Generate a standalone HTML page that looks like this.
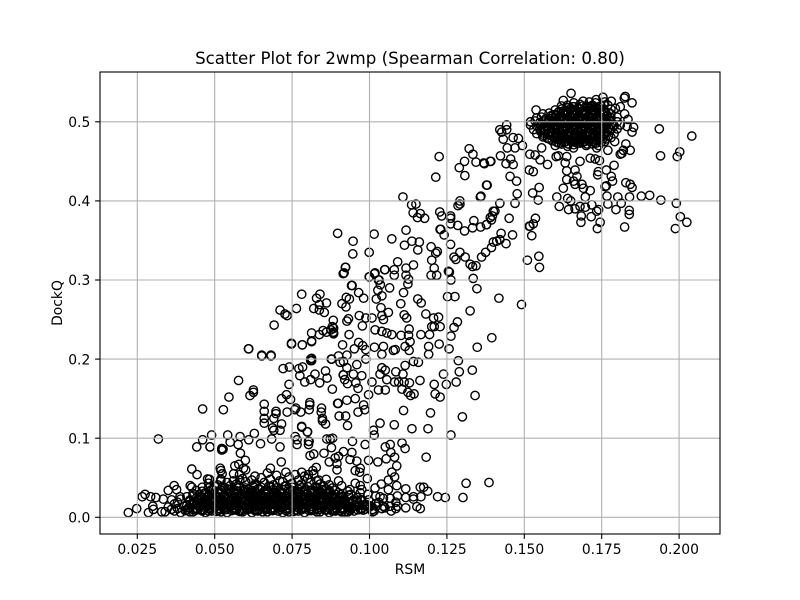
<!DOCTYPE html>
<html><head><meta charset="utf-8"><title>Scatter Plot for 2wmp</title>
<style>html,body{margin:0;padding:0;background:#fff}svg{display:block}text{font-family:"DejaVu Sans","Liberation Sans",sans-serif;fill:#000}</style>
</head><body>
<svg id="chart" width="800" height="600" viewBox="0 0 800 600" xmlns="http://www.w3.org/2000/svg">
<rect width="800" height="600" fill="#fff"/>
<g id="points"></g>
<g id="grid"></g>
<rect x="100" y="72" width="620" height="462" fill="none" stroke="#000" stroke-width="1.11"/>
<g id="axes"></g>
<text x="410" y="64" font-size="16.67" text-anchor="middle">Scatter Plot for 2wmp (Spearman Correlation: 0.80)</text>
<text x="410" y="574" font-size="13.89" text-anchor="middle">RSM</text>
<text x="0" y="0" font-size="13.89" text-anchor="middle" transform="translate(62 303) rotate(-90)">DockQ</text>
</svg>
<script>
const xTicks = [0.025, 0.05, 0.075, 0.1, 0.125, 0.15, 0.175, 0.2];
const xTickLabels = ["0.025", "0.050", "0.075", "0.100", "0.125", "0.150", "0.175", "0.200"];
const yTicks = [0, 0.1, 0.2, 0.3, 0.4, 0.5];
const yTickLabels = ["0.0", "0.1", "0.2", "0.3", "0.4", "0.5"];

// low-left outliers and mid-height points
const rsmLower = [
.0221,.0248,.0286,.0266,.0275,.0293,.0310,.0300,.0302,.0334,
.0350,.0361,.0369,.0377,.0388,.0421,.0426,.0329,.0318,.0442,
.0485,.0523,.0527,.0583,.0599,.0426,.0443,.0518,.0520,.0524,
.0565,.0578,.0561,.0593,.0600,.0680,.0715,.0477,.0483,.0520,
.0581,.0808,.0781,.0800,.0805,.0803,.0862,.0873,.0881,.0945,
.0986,.0877,.0820,.0853,.0916,.0943,.0937,.0900,.0889,.0870,
.0895,.0895,.0959,.0997,.1027,.1054,.1051,.1067,.1105,.1115,
.1069,.1081,.1183,.1088,.1072,.1081,.1061,.0954,.0970,.0968,
.0993,.0828,.0817,.0803,.0781,.0836,.1312,.1386,.1302,.1220,
.1245,.1166,.1164,.1175,.1188,.1117,.1088,.1142,.1142,.1117,
.1090,.1117,.1153,.1164,.1090,.1085,.1067,.1061,.1038,.1034,
.1015,.1022,.1045,.1067,.1018,.0975,.0954,.0970,.0937,.0910,
.0975,.0992,.0937,.0910,.0975,.0948,.0916,.0932,.0964,.0997,
.1034,.1013,.1015,.1080,.1110,.1137,.1189,.1197,.1300,.1263];
const dockqLower = [
.006,.011,.006,.026,.029,.026,.025,.014,.010,.023,
.034,.022,.040,.035,.026,.040,.038,.007,.099,.089,
.089,.085,.086,.081,.072,.061,.054,.062,.059,.055,
.065,.067,.055,.062,.060,.062,.070,.0485,.048,.046,
.047,.078,.114,.108,.096,.092,.099,.099,.100,.096,
.092,.088,.080,.081,.083,.082,.073,.077,.075,.070,
.068,.060,.071,.072,.070,.074,.089,.092,.094,.087,
.082,.076,.076,.065,.057,.051,.047,.059,.062,.057,
.049,.063,.059,.054,.057,.047,.043,.044,.025,.026,
.025,.026,.038,.038,.033,.036,.040,.026,.023,.025,
.027,.012,.0135,.011,.014,.011,.014,.035,.042,.026,
.008,.014,.014,.024,.037,.035,.043,.040,.035,.040,
.022,.0135,.009,.007,.011,.022,.026,.018,.018,.022,
.119,.110,.104,.117,.135,.112,.112,.132,.127,.104];

// points between DockQ 0.1 and 0.22 on the left of the cloud
const rsmMiddle = [
.0610,.0652,.0682,.0748,.0783,.0813,.0813,.0813,.0721,.0741,
.0772,.0784,.0775,.0791,.0810,.0824,.0858,.0863,.0839,.0880,
.0577,.0625,.0625,.0614,.0546,.0528,.0461,.0740,.0732,.0716,
.0745,.0660,.0660,.0660,.0660,.0698,.0698,.0691,.0716,.0734,
.0762,.0759,.0778,.0807,.0807,.0805,.0845,.0848,.0848,.0858,
.0781,.0799,.0687,.0691,.0711,.0899,.0902,.0923,.0929,.0877,
.0490,.0542,.0582,.0628,.0550,.0576,.0610,.0648,.0684,.0711,
.0760,.0766,.0766,.0803,.0461,.0485,.0523,.0844,.0963,.0985];
const dockqMiddle = [
.213,.205,.205,.219,.218,.222,.201,.198,.188,.190,
.188,.190,.179,.171,.174,.181,.185,.176,.170,.162,
.173,.161,.158,.154,.152,.136,.137,.168,.155,.150,
.149,.143,.134,.125,.119,.134,.131,.125,.118,.133,
.138,.136,.133,.145,.142,.136,.138,.125,.122,.118,
.115,.108,.113,.110,.110,.144,.128,.128,.116,.200,
.104,.104,.102,.106,.095,.092,.098,.093,.099,.089,
.102,.098,.092,.096,.098,.089,.087,.133,.133,.136];

// points above 0.2 left of RSM 0.09
const rsmUpperLeft = [
.0922,.0915,.0999,.1016,.1049,.0942,.1031,.0781,.0840,.0829,
.0861,.0838,.0820,.0838,.0854,.0764,.0711,.0727,.0734,.0692,
.0609,.0652,.0682,.0748,.0783,.0813,.0813,.0838,.0850,.0861,
.0880,.0883,.0875,.0883,.0877,.0810,.0810];
const dockqUpperLeft = [
.316,.308,.304,.308,.313,.293,.300,.282,.282,.277,
.271,.269,.264,.262,.259,.264,.262,.257,.255,.243,
.213,.204,.204,.220,.218,.233,.223,.231,.236,.234,
.241,.234,.237,.249,.200,.200,.198];

// central diagonal of the cloud
const rsmCentral = [
.0897,.1015,.0947,.0946,.0999,.1072,.1118,.1137,.1161,.1113,
.1156,.1228,.1241,.1262,.1262,.1285,.1307,.1333,.1359,.1378,
.1394,.1425,.1462,.1400,.1411,.1421,.1441,.1394,.1375,.1362,
.1344,.1333,.1325,.1309,.1292,.1279,.1273,.1199,.1219,.1214,
.1201,.1209,.1199,.1217,.1255,.1258,.1263,.1335,.1347,.1418,
.1491,.1325,.1510,.1547,.1549,.1518,.1524,.0923,.0918,.1000,
.1018,.1050,.1091,.1080,.1080,.1118,.1142,.1118,.1126,.1124,
.1029,.1035,.1065,.1027,.1040,.1022,.1110,.1101,.1156,.1167,
.1252,.1276,.0944,.0965,.0981,.0925,.0935,.0911,.0924,.1037,
.1061,.1040,.1045,.1112,.1120,.1182,.1207,.1223,.1209,.1228,
.1201,.1284,.1273,.1263,.1395,.1348,.1225,.1257,.1191,.1191,
.0967,.0932,.0927,.0884,.0884,.0988,.1008,.0977,.1018,.1040,
.1056,.1072,.1102,.1128,.1126,.1166,.1194,.0934,.0913,.0951,
.0965,.0978,.0988,.1016,.1045,.1040,.1083,.1077,.1115,.1131,
.1128,.0900,.0927,.0988,.0959,.0916,.0927,.0878,.1142,.1158,
.1115,.1287,.1290,.1332,.1239,.1280,.1248,.1209,.1163,.1212,
.1228,.1341,.1040,.1051,.1085,.1108,.1034,.1056,.1081,.1094,
.1112,.1129,.1105,.1124,.1133,.1144,.1029,.1051,.1008,.0997,
.0975,.0948,.0916,.0920,.0956,.0963,.0929,.0954,.0927,.0897,
.0981,.0884,.0915,.0905];
const dockqCentral = [
.359,.358,.349,.333,.335,.352,.363,.349,.348,.344,
.338,.364,.357,.345,.371,.369,.362,.366,.367,.370,
.376,.359,.357,.348,.349,.351,.346,.341,.335,.329,
.318,.317,.320,.329,.335,.326,.329,.342,.336,.334,
.325,.315,.306,.306,.311,.310,.300,.302,.289,.277,
.269,.261,.325,.330,.316,.368,.356,.316,.309,.304,
.309,.313,.323,.313,.306,.315,.319,.306,.301,.295,
.300,.294,.290,.287,.280,.276,.284,.270,.276,.271,
.279,.279,.293,.284,.277,.278,.276,.270,.266,.265,
.259,.255,.250,.256,.252,.257,.252,.253,.241,.241,
.241,.247,.240,.229,.227,.215,.219,.213,.216,.206,
.255,.251,.248,.239,.233,.252,.252,.242,.237,.235,
.233,.231,.230,.238,.230,.231,.231,.231,.218,.213,
.221,.217,.212,.215,.216,.206,.212,.211,.216,.222,
.211,.204,.205,.200,.193,.197,.189,.200,.197,.196,
.192,.198,.184,.186,.181,.171,.168,.168,.173,.156,
.152,.154,.189,.186,.184,.181,.181,.174,.171,.171,
.171,.170,.162,.158,.154,.156,.161,.161,.171,.155,
.179,.181,.180,.174,.170,.163,.169,.150,.148,.144,
.142,.232,.180,.196];

// points under the top cluster, around RSM 0.11 to 0.15
const rsmRising = [
.1225,.1214,.1322,.1334,.1307,.1344,.1371,.1392,.1290,.1308,
.1380,.1358,.1292,.1286,.1292,.1150,.1164,.1155,.1178,.1227,
.1233,.1262,.1262,.1337,.1397,.1405,.1108,.1136,.1141,.1230];
const dockqRising = [
.456,.430,.466,.459,.450,.449,.447,.450,.442,.432,
.420,.405,.400,.394,.396,.396,.384,.379,.378,.386,
.381,.381,.378,.375,.381,.387,.405,.395,.385,.364];

// outer points around the top cluster
const rsmTop = [
.1651,.1538,.1626,.1732,.1754,.1781,.1826,.1823,.1848,.1810,
.1794,.1824,.1835,.1832,.1853,.1848,.1936,.2041,.1792,.1828,
.1842,.1820,.1815,.1810,.1940,.2002,.1994,.1790,.1421,.1443,
.1427,.1443,.1432,.1464,.1481,.1494,.1445,.1470,.1423,.1456,
.1441,.1464,.1369,.1390,.1516,.1529,.1454,.1475,.1378,.1360,
.1477,.1527,.1548,.1545,.1421,.1470,.1451,.1536,.1529,.1516,
.1400,.1390,.1378,.1575,.1551,.1535,.1518,.1556,.1610,.1637,
.1632,.1637,.1664,.1670,.1637,.1659,.1626,.1664,.1686,.1691,
.1713,.1697,.1605,.1640,.1650,.1613,.1643,.1664,.1680,.1697,
.1718,.1684,.1683,.1716,.1734,.1740,.1745,.1736,.1767,.1770,
.1796,.1813,.1802,.1840,.1878,.1905,.1941,.1991,.2004,.2025,
.1988,.1839,.1839,.1824,.1828,.1842,.1848,.1761,.1765,.1739,
.1737,.1765,.1781,.1785,.1680,.1713,.1734,.1743,.1770,.1729,
.1659,.1603];
const dockqTop = [
.536,.515,.527,.528,.531,.526,.532,.530,.524,.519,
.517,.510,.503,.494,.493,.487,.491,.482,.475,.472,
.464,.464,.460,.459,.457,.462,.456,.445,.490,.496,
.487,.490,.478,.480,.479,.470,.467,.467,.457,.453,
.447,.446,.448,.450,.439,.437,.431,.425,.420,.406,
.409,.410,.417,.401,.397,.397,.378,.378,.371,.368,
.387,.379,.370,.446,.452,.458,.459,.467,.457,.456,
.448,.438,.439,.431,.427,.425,.416,.421,.421,.416,
.413,.405,.405,.403,.400,.393,.389,.390,.393,.392,
.395,.381,.373,.380,.387,.389,.373,.365,.406,.396,
.389,.397,.405,.405,.406,.407,.401,.397,.380,.373,
.365,.388,.383,.367,.423,.421,.417,.418,.419,.437,
.433,.439,.431,.425,.450,.454,.467,.451,.464,.453,
.467,.456];

// dense band near the bottom, read row by row
const rsmBand = [
.034,.037,.039,.042,.044,.047,.049,.052,.054,.057,.059,.062,.064,.067,.069,.072,.074,.077,.079,.082,.084,.087,.089,.092,.095,.098,.101,
.036,.038,.041,.043,.046,.048,.051,.053,.056,.058,.061,.063,.066,.068,.071,.073,.076,.078,.081,.083,.086,.088,.091,.094,.097,.104,
.035,.040,.042,.045,.047,.050,.052,.055,.057,.060,.062,.065,.067,.070,.072,.075,.077,.080,.082,.085,.087,.090,.093,.096,.100,
.037,.041,.044,.046,.049,.051,.054,.056,.059,.061,.064,.066,.069,.071,.074,.076,.079,.081,.084,.086,.089,.091,.095,.099,
.038,.042,.043,.045,.048,.050,.053,.055,.058,.060,.063,.065,.068,.070,.073,.075,.078,.080,.083,.085,.088,.090,.094,.102,
.039,.042,.044,.047,.049,.052,.054,.057,.059,.062,.064,.067,.069,.072,.074,.077,.079,.082,.084,.087,.089,.092,.097,
.041,.043,.046,.048,.051,.053,.056,.058,.061,.063,.066,.068,.071,.073,.076,.078,.081,.083,.086,.088,.091,.096,
.043,.045,.047,.050,.052,.055,.057,.060,.062,.065,.067,.070,.072,.075,.077,.080,.082,.085,.087,.090,.094,
.044,.046,.049,.051,.054,.056,.059,.061,.064,.066,.069,.071,.074,.076,.079,.081,.084,.086,.089,.093,
.046,.048,.050,.053,.055,.058,.060,.063,.065,.068,.070,.073,.075,.078,.080,.083,.085,.088,
.048,.051,.054,.057,.060,.063,.066,.069,.072,.075,.078,.081,.084,.087,
.052,.056,.059,.062,.065,.068,.071,.074,.077,.080,.083,.086,.090,
.058,.063,.067,.070,.073,.076,.079,.082];
const dockqBand = [
.007,.008,.006,.007,.009,.006,.008,.007,.006,.009,.007,.006,.008,.007,.009,.006,.007,.008,.006,.009,.007,.006,.008,.007,.008,.009,.007,
.010,.011,.009,.010,.008,.011,.009,.012,.010,.009,.011,.010,.012,.009,.010,.011,.009,.012,.010,.011,.009,.010,.012,.011,.010,.011,
.013,.014,.012,.013,.015,.012,.014,.013,.015,.012,.014,.013,.012,.015,.013,.014,.012,.015,.013,.014,.012,.015,.013,.014,.013,
.017,.015,.016,.018,.015,.017,.016,.018,.016,.017,.015,.018,.016,.017,.015,.018,.016,.017,.015,.018,.016,.017,.015,.016,
.019,.020,.018,.021,.019,.020,.018,.021,.019,.020,.018,.021,.019,.020,.018,.021,.019,.020,.018,.021,.019,.020,.018,.017,
.023,.022,.024,.022,.023,.021,.024,.022,.023,.025,.022,.024,.023,.021,.024,.022,.023,.025,.022,.024,.023,.021,.022,
.026,.027,.025,.028,.026,.027,.025,.028,.026,.027,.025,.028,.026,.027,.025,.028,.026,.027,.025,.028,.026,.025,
.030,.029,.031,.029,.030,.032,.029,.031,.030,.029,.032,.030,.031,.029,.032,.030,.031,.029,.030,.031,.029,
.034,.033,.035,.033,.036,.034,.033,.035,.036,.033,.035,.034,.036,.033,.035,.034,.033,.036,.034,.033,
.038,.037,.039,.037,.040,.038,.037,.040,.038,.039,.037,.040,.038,.037,.039,.038,.040,.037,
.043,.041,.044,.042,.045,.042,.044,.041,.045,.043,.042,.044,.042,.041,
.048,.046,.049,.047,.050,.048,.046,.051,.047,.049,.046,.048,.046,
.054,.052,.056,.053,.057,.054,.052,.055];

// second pass over the bottom band, filling the gaps between the first rows
const rsmBandFill = [
.0405,.043,.0455,.048,.0505,.053,.0555,.058,.0605,.063,.0655,.068,.0705,.073,.0755,.078,.0805,.083,.0855,.088,.0905,.093,
.0415,.044,.0465,.049,.0515,.054,.0565,.059,.0615,.064,.0665,.069,.0715,.074,.0765,.079,.0815,.084,.0865,.089,.0915,.0945,
.0425,.045,.0475,.050,.0525,.055,.0575,.060,.0625,.065,.0675,.070,.0725,.075,.0775,.080,.0825,.085,.0875,.090,.0925,.0985,
.0435,.046,.0485,.051,.0535,.056,.0585,.061,.0635,.066,.0685,.071,.0735,.076,.0785,.081,.0835,.086,.0885,.091,.0935,
.0445,.047,.0495,.052,.0545,.057,.0595,.062,.0645,.067,.0695,.072,.0745,.077,.0795,.082,.0845,.087,.0895,.092,
.0455,.048,.0505,.053,.0555,.058,.0605,.063,.0655,.068,.0705,.073,.0755,.078,.0805,.083,.0855,.088,.0905,
.0465,.049,.0515,.054,.0565,.059,.0615,.064,.0665,.069,.0715,.074,.0765,.079,.0815,.084,.0865,.089,
.0495,.052,.0545,.057,.0595,.062,.0645,.067,.0695,.072,.0745,.077,.0795,.082,.0845,.087,
.0525,.0575,.0625,.0675,.0725,.0775,.0825,
.0935,.096,.0985,.101,.103,.105,.1045,.102,.0995,.097,.107,.1085];
const dockqBandFill = [
.0085,.007,.0095,.008,.0075,.0095,.0085,.0075,.0095,.0085,.007,.0095,.008,.0085,.0075,.0095,.0085,.007,.0095,.008,.0085,.007,
.012,.0115,.013,.0125,.011,.013,.012,.0115,.0125,.013,.011,.012,.0125,.0115,.013,.012,.011,.0125,.013,.012,.0115,.0125,
.0155,.015,.0165,.0145,.016,.015,.0165,.0155,.0145,.016,.015,.0165,.0155,.0145,.016,.015,.0165,.0155,.0145,.016,.015,.0155,
.019,.0185,.020,.018,.0195,.019,.0205,.0185,.019,.020,.018,.0195,.0185,.0205,.019,.018,.020,.0195,.0185,.019,.018,
.0225,.022,.0235,.0215,.023,.022,.0235,.0225,.0215,.023,.022,.0235,.0225,.0215,.023,.022,.0235,.0225,.0215,.022,
.026,.0255,.027,.025,.0265,.0255,.027,.026,.025,.0265,.0255,.027,.026,.025,.0265,.0255,.027,.026,.025,
.030,.0295,.031,.029,.0305,.0295,.031,.030,.029,.0305,.0295,.031,.030,.029,.0305,.0295,.031,.029,
.0345,.034,.0355,.0335,.035,.034,.0355,.0345,.0335,.035,.034,.0355,.0345,.0335,.035,.034,
.039,.040,.0385,.0395,.039,.040,.0385,
.012,.020,.016,.010,.019,.012,.024,.027,.029,.031,.008,.019];

// third pass over the darkest part of the bottom band
const rsmBandDense = [
.0462,.0487,.0512,.0537,.0562,.0587,.0612,.0637,.0662,.0687,.0712,.0737,.0762,.0787,.0812,.0837,.0862,.0887,.0912,.0937,.0962,.0987,
.0452,.0477,.0502,.0527,.0552,.0577,.0602,.0627,.0652,.0677,.0702,.0727,.0752,.0777,.0802,.0827,.0852,.0877,.0902,.0927,.0952,.0977,.1002,
.0472,.0497,.0522,.0547,.0572,.0597,.0622,.0647,.0672,.0697,.0722,.0747,.0772,.0797,.0822,.0847,.0872,.0897,.0922,.0947,.0972,
.0482,.0507,.0532,.0557,.0582,.0607,.0632,.0657,.0682,.0707,.0732,.0757,.0782,.0807,.0832,.0857,.0882,.0907,.0932,
.0512,.0552,.0592,.0632,.0672,.0712,.0752,.0792,.0832,.0872];
const dockqBandDense = [
.009,.0105,.0085,.010,.0095,.0085,.0105,.009,.010,.0085,.0105,.0095,.009,.0105,.0085,.010,.0095,.009,.0105,.0085,.0095,.0105,
.014,.015,.0135,.0145,.0155,.014,.015,.0135,.0145,.0155,.014,.015,.0135,.0145,.0155,.014,.015,.0135,.0145,.0155,.014,.015,.0145,
.021,.0205,.022,.021,.020,.0215,.0205,.022,.021,.020,.0215,.0205,.022,.021,.020,.0215,.0205,.022,.021,.020,.0215,
.028,.027,.0285,.0275,.027,.0285,.028,.027,.0285,.0275,.027,.0285,.028,.027,.0285,.0275,.027,.0285,.028,
.033,.032,.0335,.0325,.033,.032,.0335,.0325,.033,.032];

// dense core of the top cluster, read row by row
const rsmCore = [
.160,.162,.164,.166,.168,.170,.172,.174,
.159,.1605,.162,.1635,.165,.1665,.168,.1695,.171,.1725,.174,.176,
.156,.1575,.159,.1605,.162,.1635,.165,.1665,.168,.1695,.171,.1725,.174,.1755,.178,
.154,.156,.1575,.159,.1605,.162,.1635,.165,.1665,.168,.1695,.171,.1725,.174,.1755,.177,.179,
.153,.155,.1565,.158,.1595,.161,.1625,.164,.1655,.167,.1685,.170,.1715,.173,.1745,.176,.178,.180,
.152,.154,.1555,.157,.1585,.160,.1615,.163,.1645,.166,.1675,.169,.1705,.172,.1735,.175,.1765,.179,.181,
.152,.1535,.155,.1565,.158,.1595,.161,.1625,.164,.1655,.167,.1685,.170,.1715,.173,.1745,.176,.1775,.180,
.154,.1555,.157,.1585,.160,.1615,.163,.1645,.166,.1675,.169,.1705,.172,.1735,.175,.1765,.178,.180,
.156,.158,.1595,.161,.1625,.164,.1655,.167,.1685,.170,.1715,.173,.1745,.176,.178,
.160,.162,.1635,.165,.1665,.168,.1695,.171,.1725,.174,.176,.178,
.162,.164,.166,.168,.170,.172,.174,.177,
.166,.169,.171,.173,.176];
const dockqCore = [
.470,.472,.469,.471,.473,.470,.472,.470,
.476,.474,.477,.475,.476,.474,.477,.475,.476,.474,.477,.475,
.481,.479,.482,.480,.481,.479,.482,.480,.481,.479,.482,.480,.481,.479,.480,
.485,.486,.484,.487,.485,.486,.484,.487,.485,.486,.484,.487,.485,.486,.484,.487,.485,
.490,.491,.489,.492,.490,.491,.489,.492,.490,.491,.489,.492,.490,.491,.489,.492,.490,.491,
.496,.495,.497,.494,.496,.495,.497,.494,.496,.495,.497,.494,.496,.495,.497,.494,.496,.495,.496,
.500,.501,.499,.502,.500,.501,.499,.502,.500,.501,.499,.502,.500,.501,.499,.502,.500,.501,.500,
.505,.506,.504,.507,.505,.506,.504,.507,.505,.506,.504,.507,.505,.506,.504,.507,.505,.506,
.510,.511,.509,.512,.510,.511,.509,.512,.510,.511,.509,.512,.510,.511,.510,
.515,.516,.514,.517,.515,.516,.514,.517,.515,.516,.514,.516,
.520,.521,.519,.522,.520,.521,.519,.521,
.524,.526,.525,.524,.525];

// second pass over the top cluster core
const rsmCoreFill = [
.1612,.1628,.1642,.1658,.1672,.1688,.1702,.1718,.1732,.1748,
.1582,.1598,.1612,.1628,.1642,.1658,.1672,.1688,.1702,.1718,.1732,.1748,.1762,
.1562,.1578,.1592,.1608,.1622,.1638,.1652,.1668,.1682,.1698,.1712,.1728,.1742,.1758,.1772,
.1552,.1568,.1582,.1598,.1612,.1628,.1642,.1658,.1672,.1688,.1702,.1718,.1732,.1748,.1762,.1778,
.1562,.1578,.1592,.1608,.1622,.1638,.1652,.1668,.1682,.1698,.1712,.1728,.1742,.1758,.1772,.1788,
.1572,.1588,.1602,.1618,.1632,.1648,.1662,.1678,.1692,.1708,.1722,.1738,.1752,.1768,.1782,
.1568,.1582,.1598,.1612,.1628,.1642,.1658,.1672,.1688,.1702,.1718,.1732,.1748,.1762,.1778,
.1588,.1602,.1618,.1632,.1648,.1662,.1678,.1692,.1708,.1722,.1738,.1752,.1768,
.1612,.1628,.1642,.1658,.1672,.1688,.1702,.1718,.1732,.1748,.1762,
.1642,.1658,.1672,.1688,.1702,.1718,.1732,.1748];
const dockqCoreFill = [
.473,.474,.472,.475,.473,.474,.472,.475,.473,.474,
.478,.479,.477,.480,.478,.479,.477,.480,.478,.479,.477,.480,.478,
.483,.484,.482,.485,.483,.484,.482,.485,.483,.484,.482,.485,.483,.484,.482,
.488,.489,.487,.490,.488,.489,.487,.490,.488,.489,.487,.490,.488,.489,.487,.490,
.493,.494,.492,.495,.493,.494,.492,.495,.493,.494,.492,.495,.493,.494,.492,.495,
.498,.499,.497,.500,.498,.499,.497,.500,.498,.499,.497,.500,.498,.499,.497,
.503,.504,.502,.505,.503,.504,.502,.505,.503,.504,.502,.505,.503,.504,.502,
.508,.509,.507,.510,.508,.509,.507,.510,.508,.509,.507,.510,.508,
.513,.514,.512,.515,.513,.514,.512,.515,.513,.514,.512,
.518,.519,.517,.520,.518,.519,.517,.520];

const rsmGroups = [rsmLower, rsmMiddle, rsmUpperLeft, rsmCentral, rsmRising, rsmTop, rsmBand, rsmBandFill, rsmBandDense, rsmCore, rsmCoreFill];
const dockqGroups = [dockqLower, dockqMiddle, dockqUpperLeft, dockqCentral, dockqRising, dockqTop, dockqBand, dockqBandFill, dockqBandDense, dockqCore, dockqCoreFill];

const SVG_NS = "http://www.w3.org/2000/svg";
function xScale(v) { return 214.7 + (v - 0.05) * 3096; }
function yScale(v) { return 517.3 - v * 791; }

const pointsLayer = document.getElementById("points");
const gridLayer = document.getElementById("grid");
const axesLayer = document.getElementById("axes");

rsmGroups.forEach(function (xs, g) {
  const ys = dockqGroups[g];
  const n = Math.min(xs.length, ys.length);
  for (let i = 0; i < n; i++) {
    const c = document.createElementNS(SVG_NS, "circle");
    c.setAttribute("cx", xScale(xs[i]));
    c.setAttribute("cy", yScale(ys[i]));
    c.setAttribute("r", 4.17);
    c.setAttribute("fill", "none");
    c.setAttribute("stroke", "#000");
    c.setAttribute("stroke-width", 1.39);
    
    
    pointsLayer.appendChild(c);
  }
});

function line(parent, x1, y1, x2, y2, color) {
  const l = document.createElementNS(SVG_NS, "line");
  l.setAttribute("x1", x1);
  l.setAttribute("y1", y1);
  l.setAttribute("x2", x2);
  l.setAttribute("y2", y2);
  l.setAttribute("stroke", color);
  l.setAttribute("stroke-width", 1.11);
  parent.appendChild(l);
  return l;
}
function label(x, y, str, anchor) {
  const t = document.createElementNS(SVG_NS, "text");
  t.setAttribute("x", x);
  t.setAttribute("y", y);
  t.setAttribute("font-size", 13.89);
  t.setAttribute("text-anchor", anchor);
  t.textContent = str;
  axesLayer.appendChild(t);
  return t;
}

xTicks.forEach(function (v, i) {
  const px = xScale(v);
  const g = line(gridLayer, px, 72, px, 534, "#b0b0b0");
  
  
  const tk = line(axesLayer, px, 534, px, 538.9, "#000");
  
  
  const t = label(px, 554, xTickLabels[i], "middle");
  
  
});
yTicks.forEach(function (v, i) {
  const py = yScale(v);
  const g = line(gridLayer, 100, py, 720, py, "#b0b0b0");
  
  
  const tk = line(axesLayer, 95.1, py, 100, py, "#000");
  
  
  const t = label(90.3, py + 5.2, yTickLabels[i], "end");
  
  
});
</script>
</body></html>
